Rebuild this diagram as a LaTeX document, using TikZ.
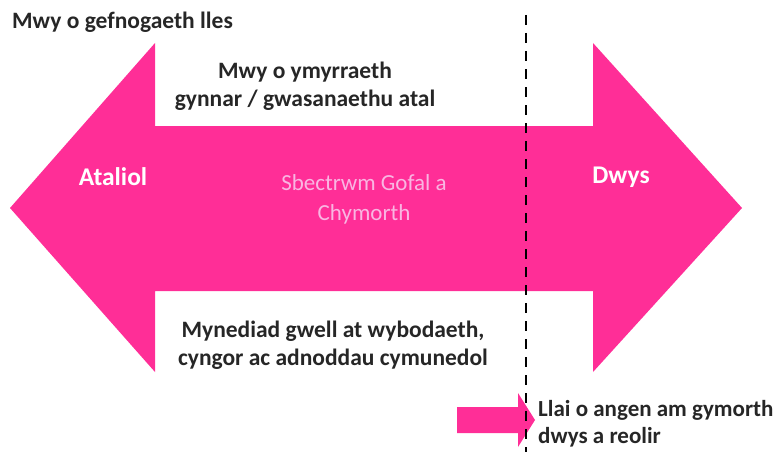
\documentclass[tikz,border=0pt]{standalone}
\usepackage{fontspec}
\setmainfont{Carlito}
\usetikzlibrary{positioning}
\definecolor{spink}{HTML}{FF2E97}
\definecolor{lpink}{HTML}{F9B6E2}
\definecolor{dgray}{HTML}{262626}
\tikzset{
  lbl/.style={font=\bfseries\fontsize{23.5}{28.5}\selectfont, text=dgray, align=center, inner sep=0pt},
  endlbl/.style={font=\bfseries\fontsize{25.5}{28}\selectfont, text=white, inner sep=0pt},
  midlbl/.style={font=\fontsize{23}{30}\selectfont, text=lpink, align=center, inner sep=0pt}
}

\begin{document}
\begin{tikzpicture}[x=1pt,y=-1pt]
   \useasboundingbox (0,0) rectangle (781,452);
   % spectrum arrow
   \fill[spink] (10,208) -- (155,43) -- (155,126) -- (593,126) -- (593,43) -- (742,208)
      -- (593,372) -- (593,291) -- (155,291) -- (155,372) -- cycle;
   \fill[spink] (457,407) -- (518,407) -- (518,393) -- (535,420) -- (518,447) -- (518,433)
      -- (457,433) -- cycle;
   \coordinate (dtop) at (526,15);
   \coordinate (dbot) at (526,452);
   \draw[black, line width=2pt, dash pattern=on 10pt off 8pt] (dtop) -- (dbot);
   \node[lbl, anchor=west] (lles) at (12,22) {Mwy o gefnogaeth lles};
   \node[lbl] (atal) at (305,86) {Mwy o ymyrraeth\\gynnar / gwasanaethu atal};
   \node[lbl] (cymuned) at (333,345) {Mynediad gwell at wybodaeth,\\cyngor ac adnoddau cymunedol};
   \node[endlbl] (ataliol) at (113,177) {Ataliol};
   \node[endlbl] (dwys) at (621,177) {Dwys};
   \node[midlbl] (sbectrwm) at (364,199) {Sbectrwm Gofal a\\Chymorth};
   \node[lbl, font=\bfseries\fontsize{23}{27}\selectfont, anchor=west, align=left] (llai)
      at (538,424) {Llai o angen am gymorth\\dwys a reolir};
\end{tikzpicture}
\end{document}
